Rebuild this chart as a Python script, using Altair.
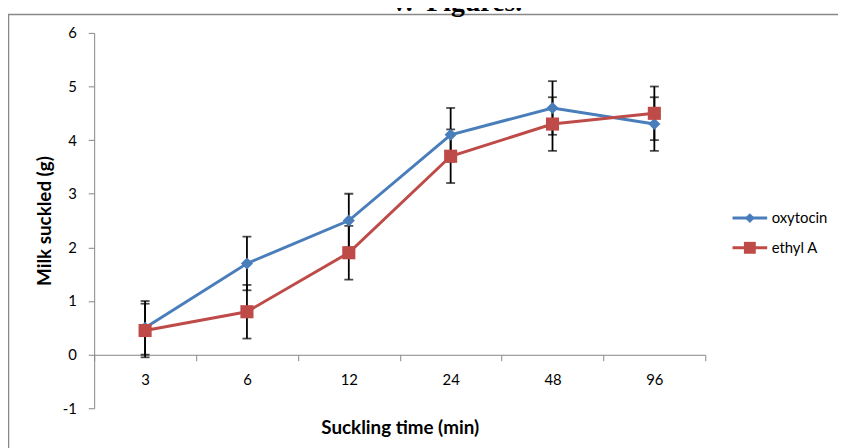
import altair as alt
import pandas as pd

# ---- data ----
times = ["3", "6", "12", "24", "48", "96"]
series_names = ["oxytocin", "ethyl A"]
oxytocin = [0.5, 1.7, 2.5, 4.1, 4.6, 4.3]
oxytocin_err = [0.5, 0.5, 0.5, 0.5, 0.5, 0.5]
ethyl_a = [0.45, 0.8, 1.9, 3.7, 4.3, 4.5]
ethyl_a_err = [0.5, 0.5, 0.5, 0.5, 0.5, 0.5]
y_ticks = [-1, 0, 1, 2, 3, 4, 5, 6]
page_title = "V.\u00a0 Figures."

# ---- styles ----
colors = ["#4A7EBB", "#BE4B48"]
marker_shapes = ["diamond", "square"]
marker_sizes = [150, 175]
legend_marker_sizes = [100, 144]
legend_rows_y = [187, 217]          # legend entry positions (px, plot coords)
FONT = "Lato"
AX = "#868686"
W, H = 617, 379

rows = []
for name, vals, errs in [("oxytocin", oxytocin, oxytocin_err), ("ethyl A", ethyl_a, ethyl_a_err)]:
    for t, v, e in zip(times, vals, errs):
        rows.append({"time": t, "series": name, "value": v, "lo": v - e, "hi": v + e})
df = pd.DataFrame(rows)

x_enc = alt.X(
    "time:N",
    sort=times,
    scale=alt.Scale(type="band", domain=times, paddingInner=0, paddingOuter=0),
    axis=alt.Axis(
        title="Suckling time (min)", labelAngle=0, tickBand="extent", offset=-54,
        domainColor=AX, tickColor=AX, tickSize=6, labelFont=FONT, labelFontSize=15,
        labelColor="#000000", labelPadding=12, titleFont=FONT, titleFontSize=19,
        titleFontWeight="bold", titleColor="#000000", titlePadding=31,
    ),
)
y_scale = alt.Scale(domain=[-1, 6], nice=False, zero=False)
y_axis = alt.Axis(
    title="Milk suckled (g)", values=y_ticks, grid=False, domainColor=AX, tickColor=AX,
    tickSize=6, labelFont=FONT, labelFontSize=15, labelColor="#000000", labelPadding=12,
    labelExpr="'' + datum.value",
    titleFont=FONT, titleFontSize=19, titleFontWeight="bold", titleColor="#000000",
    titlePadding=8,
)
color_scale = alt.Scale(domain=series_names, range=colors)

base = alt.Chart(df)

err_rule = base.mark_rule(color="black", strokeWidth=1.8).encode(
    x=x_enc, y=alt.Y("lo:Q", scale=y_scale, axis=y_axis), y2="hi:Q"
)
cap_lo = base.mark_tick(color="black", thickness=1.8, size=9).encode(
    x=x_enc, y=alt.Y("lo:Q", scale=y_scale)
)
cap_hi = base.mark_tick(color="black", thickness=1.8, size=9).encode(
    x=x_enc, y=alt.Y("hi:Q", scale=y_scale)
)
lines = base.mark_line(strokeWidth=3).encode(
    x=x_enc, y=alt.Y("value:Q", scale=y_scale),
    color=alt.Color("series:N", scale=color_scale, legend=None),
    detail="series:N",
)
point_layers = []
for name, shp, sz in zip(series_names, marker_shapes, marker_sizes):
    point_layers.append(
        base.transform_filter(alt.datum.series == name)
        .mark_point(filled=True, opacity=1, shape=shp, size=sz)
        .encode(
            x=x_enc, y=alt.Y("value:Q", scale=y_scale),
            color=alt.Color("series:N", scale=color_scale, legend=None),
        )
    )

# ---- legend (line + marker + label), drawn to the right of the plot ----
legend_layers = []
for name, col, shp, lsz, ly in zip(series_names, colors, marker_shapes, legend_marker_sizes, legend_rows_y):
    ldf = pd.DataFrame({"series": [name]})
    lb = alt.Chart(ldf)
    legend_layers += [
        lb.mark_rule(color=col, strokeWidth=3).encode(
            x=alt.value(644.5), x2=alt.value(679.5), y=alt.value(ly)
        ),
        lb.mark_point(filled=True, opacity=1, shape=shp, size=lsz, color=col).encode(
            x=alt.value(662), y=alt.value(ly)
        ),
        lb.mark_text(font=FONT, fontSize=15, align="left", baseline="middle", color="#000000").encode(
            text="series:N", x=alt.value(684), y=alt.value(ly)
        ),
    ]

border = alt.Chart(pd.DataFrame({"a": [0]})).mark_rect(
    filled=False, stroke="#888888", strokeWidth=1.5
).encode(
    x=alt.value(-86.5), x2=alt.value(W + 300), y=alt.value(-18.5), y2=alt.value(H + 200)
)

title_txt = alt.Chart(pd.DataFrame({"t": [page_title]})).mark_text(
    font="Liberation Serif", fontWeight="bold", fontSize=28, align="center", baseline="alphabetic",
    color="#000000",
).encode(text="t:N", x=alt.value(365), y=alt.value(-22.5))

chart = alt.layer(
    border, title_txt, err_rule, cap_lo, cap_hi, lines, *point_layers, *legend_layers
).properties(
    width=W, height=H,
    padding={"left": 87, "top": 23, "right": 838 - 87 - W, "bottom": 440 - 23 - H},
    autosize=alt.AutoSizeParams(type="none"),
).configure_view(stroke=None)

chart.save("out.html", embed_options={"renderer": "svg", "actions": False})
